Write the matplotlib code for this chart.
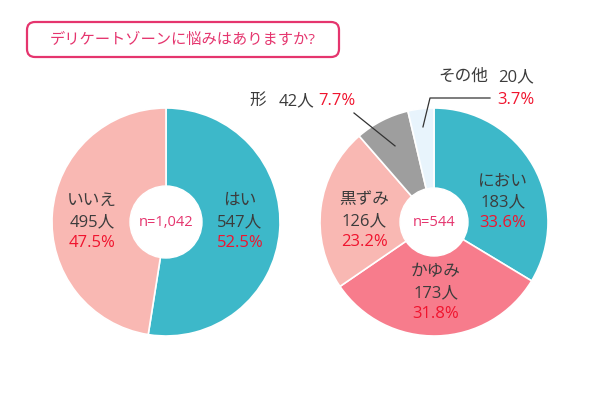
import numpy as np
import matplotlib.pyplot as plt
from matplotlib.patches import FancyBboxPatch, Circle

plt.rcParams['font.family'] = ['Open Sans', 'Noto Sans CJK JP', 'DejaVu Sans']

title = "デリケートゾーンに悩みはありますか?"

# left pie
left_names = ["はい", "いいえ"]
left_counts = [547, 495]
left_pcts = ["52.5%", "47.5%"]
left_colors = ["#3db8c9", "#f9b8b3"]
left_n = "n=1,042"

# right pie
right_names = ["におい", "かゆみ", "黒ずみ", "形", "その他"]
right_counts = [183, 173, 126, 42, 20]
right_pcts = ["33.6%", "31.8%", "23.2%", "7.7%", "3.7%"]
right_colors = ["#3db8c9", "#f77c8c", "#f9b8b3", "#9e9e9e", "#e8f4fc"]
right_n = "n=544"

dark = "#3c3c3c"
red = "#f0142e"
pink = "#e5356e"

fig = plt.figure(figsize=(6, 4), dpi=100)
ax = fig.add_axes([0, 0, 1, 1])

H = 400
R = 114

def py(y):
    return H - y

lc = (166, py(222))
rc = (434, py(222))

ax.pie(left_counts, colors=left_colors, startangle=90, counterclock=False,
       center=lc, radius=R, wedgeprops=dict(edgecolor="white", linewidth=1.2))
ax.pie(right_counts, colors=right_colors, startangle=90, counterclock=False,
       center=rc, radius=R, wedgeprops=dict(edgecolor="white", linewidth=1.2))
ax.add_patch(Circle(lc, 36, color="white", zorder=3))
ax.add_patch(Circle(rc, 34, color="white", zorder=3))
ax.text(lc[0], lc[1], left_n, color=pink, fontsize=10.5, ha="center", va="center", zorder=4)
ax.text(rc[0], rc[1], right_n, color=pink, fontsize=10.5, ha="center", va="center", zorder=4)

fs = 12
def label3(x, y, name, count, pct):
    ax.text(x, py(y - 21), name, color=dark, fontsize=fs, ha="center", va="center", zorder=4)
    ax.text(x, py(y), f"{count}人", color=dark, fontsize=fs, ha="center", va="center", zorder=4)
    ax.text(x, py(y + 21), pct, color=red, fontsize=fs, ha="center", va="center", zorder=4)

label3(240, 222, left_names[0], left_counts[0], left_pcts[0])
label3(92, 222, left_names[1], left_counts[1], left_pcts[1])
label3(503, 202, right_names[0], right_counts[0], right_pcts[0])
label3(436, 293, right_names[1], right_counts[1], right_pcts[1])
label3(364, 221, right_names[2], right_counts[2], right_pcts[2])

# leader lines from wedge mid angles
cum = np.cumsum([0] + right_counts) / sum(right_counts)
def mid_point(i, frac):
    a = np.deg2rad(90 - 360 * (cum[i] + cum[i + 1]) / 2)
    return rc[0] + frac * R * np.cos(a), rc[1] + frac * R * np.sin(a)

x3, y3 = mid_point(3, 0.75)
ax.plot([354, x3], [py(113), y3], color="#333333", lw=0.9, zorder=4)
ax.text(249, py(101), right_names[3], color=dark, fontsize=fs, ha="left", va="center")
ax.text(314, py(101), f"{right_counts[3]}人", color=dark, fontsize=fs, ha="right", va="center")
ax.text(318, py(101), right_pcts[3], color=red, fontsize=fs, ha="left", va="center")

x4, y4 = mid_point(4, 0.84)
ax.plot([490, 430, x4], [py(98), py(98), y4], color="#333333", lw=0.9, zorder=4)
ax.text(438, py(77), right_names[4], color=dark, fontsize=fs, ha="left", va="center")
ax.text(534, py(77), f"{right_counts[4]}人", color=dark, fontsize=fs, ha="right", va="center")
ax.text(534, py(100), right_pcts[4], color=red, fontsize=fs, ha="right", va="center")

# title box
box = FancyBboxPatch((27, py(57)), 312, 35, boxstyle="round,pad=0,rounding_size=8",
                     facecolor="white", edgecolor=pink, linewidth=1.6)
ax.add_patch(box)
ax.text(183, py(40), title, color=pink, fontsize=11, ha="center", va="center")

ax.set_xlim(0, 600)
ax.set_ylim(0, 400)
ax.set_aspect("equal")
ax.axis("off")

fig.savefig("out.png", dpi=100)
